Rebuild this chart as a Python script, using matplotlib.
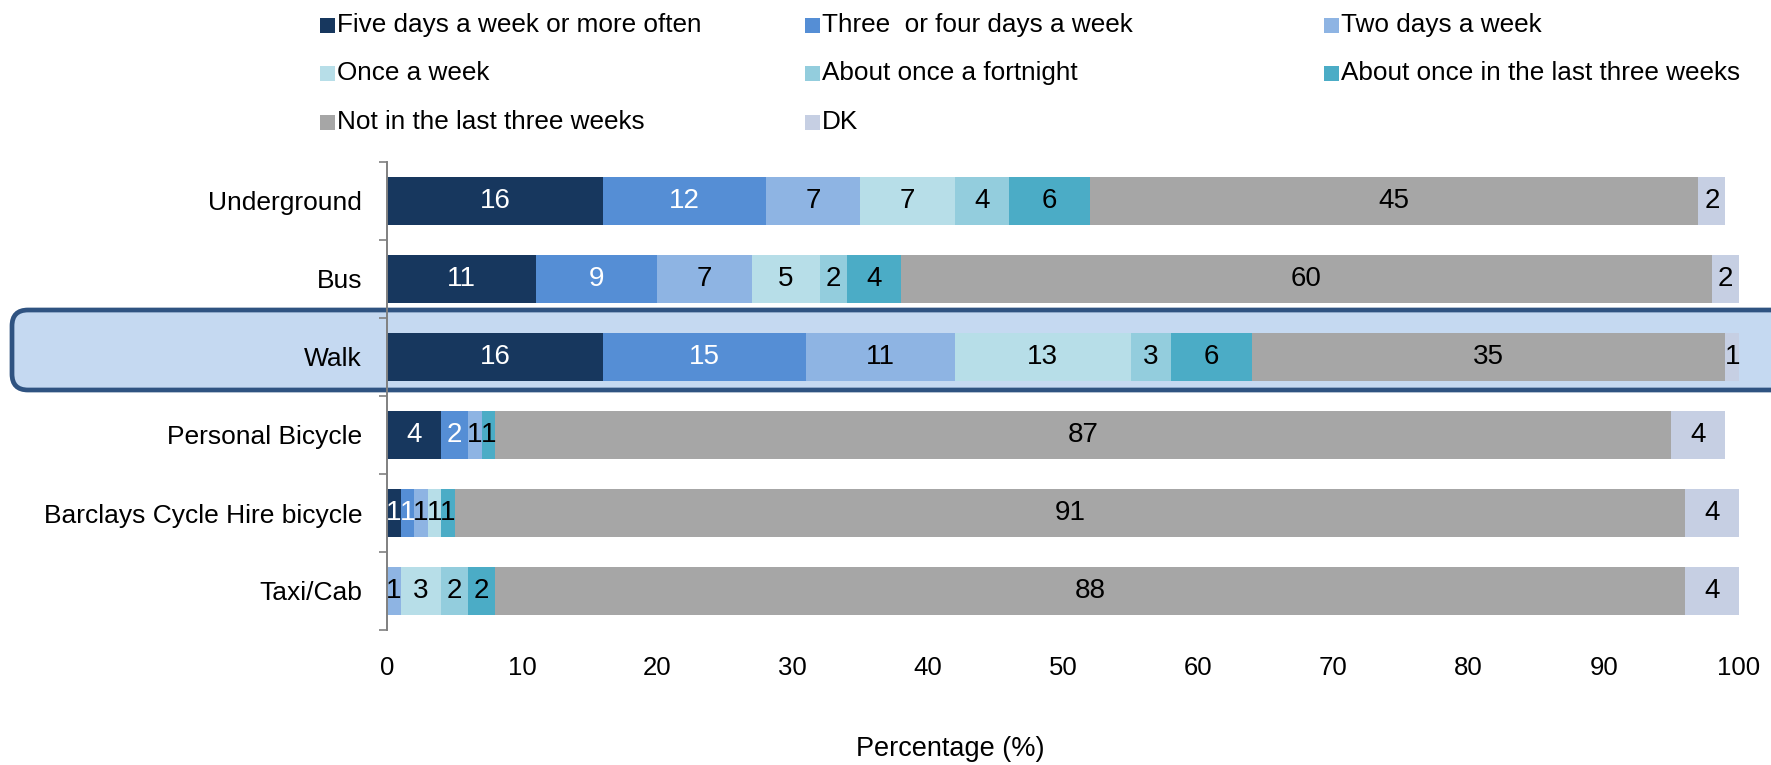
import numpy as np
import matplotlib.pyplot as plt
from matplotlib.colors import LinearSegmentedColormap
from matplotlib.patches import FancyBboxPatch, Rectangle

plt.rcParams['font.family'] = ['Liberation Sans', 'DejaVu Sans']

modes = ['Underground', 'Bus', 'Walk', 'Personal Bicycle',
         'Barclays Cycle Hire bicycle', 'Taxi/Cab']
freq_labels = ['Five days a week or more often', 'Three  or four days a week',
               'Two days a week', 'Once a week', 'About once a fortnight',
               'About once in the last three weeks', 'Not in the last three weeks', 'DK']

# percentages per mode, one list per frequency band
five_plus = [16, 11, 16, 4, 1, 0]
three_four = [12, 9, 15, 2, 1, 0]
two_days = [7, 7, 11, 1, 1, 1]
once_week = [7, 5, 13, 0, 1, 3]
fortnight = [4, 2, 3, 0, 0, 2]
three_weeks = [6, 4, 6, 1, 1, 2]
not_recent = [45, 60, 35, 87, 91, 88]
dk = [2, 2, 1, 4, 4, 4]

series = [five_plus, three_four, two_days, once_week, fortnight,
          three_weeks, not_recent, dk]
colors = ['#17375E', '#558ED5', '#8EB4E3', '#B7DEE8', '#93CDDD',
          '#4BACC6', '#A6A6A6', '#C6CFE3']
text_colors = ['white', 'white', 'black', 'black', 'black', 'black', 'black', 'black']

W, H = 1771, 765
fig = plt.figure(figsize=(W / 100, H / 100), dpi=100)

# background layer in pixel coordinates (highlight band + legend)
bg = fig.add_axes([0, 0, 1, 1], zorder=0)
bg.set_xlim(0, W)
bg.set_ylim(H, 0)
bg.axis('off')

box = FancyBboxPatch((12, 310), 1800, 80, boxstyle='round,pad=0,rounding_size=16',
                     facecolor='#C5D9F1', edgecolor='#2F5381', linewidth=3.4)
bg.add_patch(box)
grad = np.linspace(0, 1, 50).reshape(-1, 1)
shade_cmap = LinearSegmentedColormap.from_list('sh', ['#C5D9F1', '#8194AA', '#34475F'])
shade = bg.imshow(grad, extent=(0, W, 375, 391), cmap=shade_cmap, aspect='auto',
                  vmin=0, vmax=1, alpha=0.9)
shade.set_clip_path(box)

# legend laid out in three columns, row by row
col_x = [320, 805, 1324]
row_y = [25, 73, 122]
for i, lab in enumerate(freq_labels):
    x, y = col_x[i % 3], row_y[i // 3]
    bg.add_patch(Rectangle((x, y - 7.5), 15, 15, facecolor=colors[i], edgecolor='none'))
    bg.text(x + 17, y, lab, fontsize=18.8, va='center', ha='left')

ax = fig.add_axes([387 / W, 1 - 630 / H, (1739 - 387) / W, (630 - 162) / H], zorder=1)
ax.set_facecolor('none')

y = np.arange(len(modes))
left = np.zeros(len(modes))
for vals, c, tc in zip(series, colors, text_colors):
    vals = np.array(vals, dtype=float)
    ax.barh(y, vals, left=left, height=0.61, color=c, edgecolor='none')
    for yi, (l, v) in enumerate(zip(left, vals)):
        if v > 0:
            ax.text(l + v / 2, yi, f'{int(v)}', ha='center', va='center',
                    fontsize=20, color=tc)
    left += vals

ax.set_xlim(0, 100)
ax.set_ylim(len(modes) - 0.5, -0.5)
ax.set_xticks(np.arange(0, 101, 10))
ax.set_yticks(y)
ax.set_yticklabels(modes, fontsize=19)
ax.set_yticks(np.arange(-0.5, len(modes)), minor=True)
ax.tick_params(axis='y', which='major', length=0, pad=18)
ax.tick_params(axis='y', which='minor', length=6, color='#808080', width=1.2)
ax.tick_params(axis='x', length=0, labelsize=18.5, pad=19)
for s in ['top', 'right', 'bottom']:
    ax.spines[s].set_visible(False)
ax.spines['left'].set_color('#808080')
ax.spines['left'].set_linewidth(1.4)

fig.text(950 / W, 1 - 749 / H, 'Percentage (%)', ha='center', va='center', fontsize=19.5)

fig.savefig('out.png', dpi=100)
